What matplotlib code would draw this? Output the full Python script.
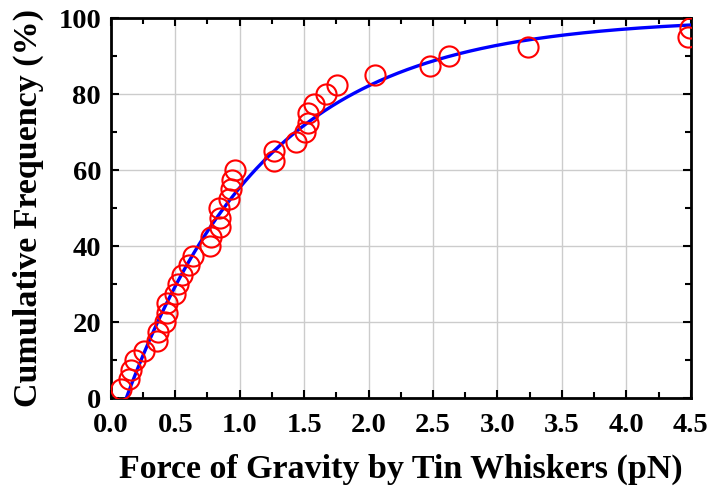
import numpy as np
import matplotlib.pyplot as plt
from matplotlib.ticker import MultipleLocator

# measured points (force in pN, cumulative frequency in %)
force = [0.083, 0.14, 0.16, 0.19, 0.26, 0.355, 0.365, 0.42, 0.44, 0.44,
         0.50, 0.52, 0.55, 0.61, 0.64, 0.77, 0.78, 0.85, 0.846, 0.84,
         0.92, 0.93, 0.94, 0.962, 1.27, 1.27, 1.435, 1.505, 1.53, 1.53,
         1.58, 1.67, 1.755, 2.05, 2.475, 2.625, 3.24, 4.48, 4.49]
cum_freq = [2.5, 5.0, 7.5, 10.0, 12.5, 15.0, 17.5, 20.0, 22.5, 25.0,
            27.5, 30.0, 32.5, 35.0, 37.5, 40.0, 42.5, 45.0, 47.5, 50.0,
            52.5, 55.0, 57.5, 60.0, 62.5, 65.0, 67.5, 70.0, 72.5, 75.0,
            77.5, 80.0, 82.5, 85.0, 87.5, 90.0, 92.5, 95.0, 97.5]

# fitted cumulative curve parameters (shifted exponential)
fit_x0 = 0.12
fit_scale = 1.09


def main():
    plt.rcParams['font.family'] = 'Liberation Serif'
    plt.rcParams['font.weight'] = 'bold'

    fig = plt.figure(figsize=(7.1, 4.91), dpi=100)
    ax = fig.add_axes([0.156, 0.189, 0.817, 0.774])

    xf = np.linspace(fit_x0, 4.5, 300)
    yf = 100 * (1 - np.exp(-(xf - fit_x0) / fit_scale))
    ax.plot(xf, yf, color='#0000ff', lw=2.4, zorder=3)
    ax.plot(force, cum_freq, 'o', mfc='none', mec='red', ms=14.5, mew=1.5, zorder=4)

    ax.set_xlim(0, 4.5)
    ax.set_ylim(0, 100)
    ax.xaxis.set_major_locator(MultipleLocator(0.5))
    ax.xaxis.set_minor_locator(MultipleLocator(0.25))
    ax.yaxis.set_major_locator(MultipleLocator(20))
    ax.yaxis.set_minor_locator(MultipleLocator(10))
    ax.xaxis.set_major_formatter(plt.FormatStrFormatter('%.1f'))
    ax.grid(True, which='major', color='#cccccc', lw=1)
    ax.set_axisbelow(True)
    ax.tick_params(which='both', direction='in', top=True, right=True,
                   labelsize=20.5, width=1.5)
    ax.tick_params(which='major', length=6)
    ax.tick_params(which='minor', length=4)
    ax.tick_params(axis='x', pad=11)
    ax.tick_params(axis='y', pad=7)
    for s in ax.spines.values():
        s.set_linewidth(2)

    ax.set_xlabel('Force of Gravity by Tin Whiskers (pN)', fontsize=24.5,
                  fontweight='bold', labelpad=11)
    ax.set_ylabel('Cumulative Frequency (%)', fontsize=24.5, fontweight='bold',
                  labelpad=10)

    fig.savefig('out.png', dpi=100)


if __name__ == "__main__":
    main()
